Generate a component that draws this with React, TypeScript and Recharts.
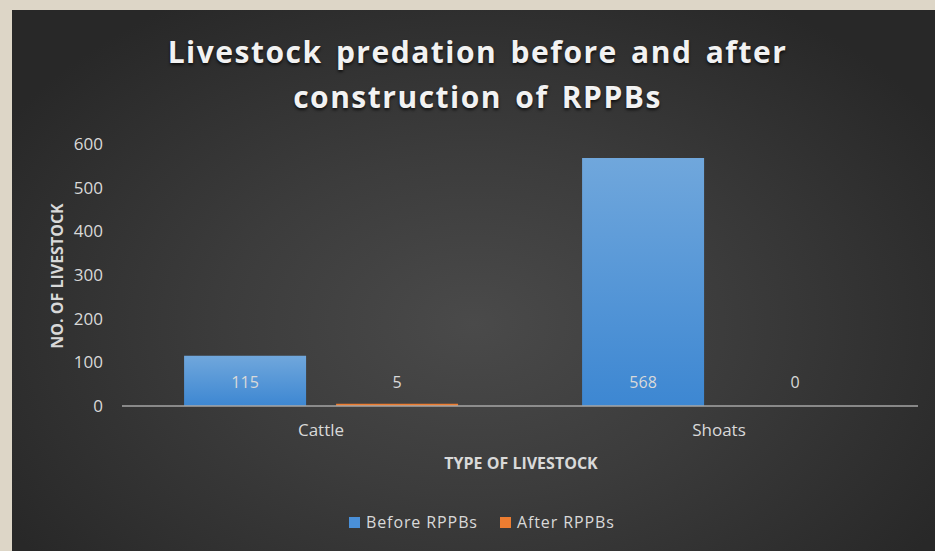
import { Bar, BarChart, Cell, LabelList, Legend, XAxis, YAxis } from "recharts";

const categories = ["Cattle", "Shoats"];
const beforeValues = [115, 568];
const afterValues = [5, 0];
const yTicks = [0, 100, 200, 300, 400, 500, 600];

const data = categories.map((type, i) => ({
  type,
  before: beforeValues[i],
  after: afterValues[i],
}));

const FONT = '"Open Sans", "DejaVu Sans", sans-serif';
const TEXT = "#d9d9d9";

const baseLabel = (props: any) => {
  const { x, y, width, height, value } = props;
  const base = Number(y) + Number(height);
  return (
    <text
      x={Number(x) + Number(width) / 2}
      y={base - 22}
      textAnchor="middle"
      dominantBaseline="middle"
      fill={TEXT}
      fontSize={16}
      fontFamily={FONT}
    >
      {value}
    </text>
  );
};

const legendItems = [
  { label: "Before RPPBs", color: "#4a90d9" },
  { label: "After RPPBs", color: "#ed7d31" },
];

function ChartLegend() {
  return (
    <div style={{ display: "flex", gap: 22, alignItems: "center", fontFamily: FONT, fontSize: 16, letterSpacing: 0.9, color: TEXT }}>
      {legendItems.map((item) => (
        <div key={item.label} style={{ display: "flex", alignItems: "center", gap: 6 }}>
          <span style={{ width: 11, height: 11, background: item.color, display: "inline-block" }} />
          <span>{item.label}</span>
        </div>
      ))}
    </div>
  );
}

export default function App() {
  return (
    <div
      style={{
        position: "fixed",
        left: 0,
        top: 0,
        width: 935,
        height: 551,
        background: "#ddd6c7",
        overflow: "hidden",
        fontFamily: FONT,
      }}
    >
      <div
        style={{
          position: "absolute",
          left: 12,
          top: 10,
          width: 923,
          height: 541,
          background:
            "radial-gradient(ellipse 60% 70% at 50% 58%, #4a4a4a 0%, #3c3c3c 45%, #282828 100%)",
        }}
      />
      <div
        style={{
          position: "absolute",
          left: 20,
          top: 29,
          width: 915,
          textAlign: "center",
          color: "#f2f2f2",
          fontSize: 30,
          fontWeight: 700,
          letterSpacing: 1.5,
          wordSpacing: 4,
          lineHeight: "45px",
          textShadow: "0 2px 3px rgba(0,0,0,0.7)",
        }}
      >
        Livestock predation before and after
        <br />
        construction of RPPBs
      </div>
      <div
        style={{
          position: "absolute",
          left: 57,
          top: 276,
          transform: "translate(-50%, -50%) rotate(-90deg)",
          whiteSpace: "nowrap",
          color: TEXT,
          fontSize: 16,
          fontWeight: 700,
        }}
      >
        NO. OF LIVESTOCK
      </div>
      <div
        style={{
          position: "absolute",
          left: 521,
          top: 463,
          transform: "translate(-50%, -50%)",
          whiteSpace: "nowrap",
          color: TEXT,
          fontSize: 16,
          fontWeight: 700,
        }}
      >
        TYPE OF LIVESTOCK
      </div>
      <div style={{ position: "absolute", left: 0, top: 0 }}>
        <BarChart
          width={935}
          height={551}
          data={data}
          margin={{ top: 144, right: 17, bottom: 93, left: 62 }}
          barCategoryGap="15.6%"
          barGap={30}
        >
          <defs>
            <linearGradient id="blueFill" x1="0" y1="0" x2="0" y2="1">
              <stop offset="0%" stopColor="#70a7dc" />
              <stop offset="100%" stopColor="#3d87d2" />
            </linearGradient>
          </defs>
          <XAxis
            dataKey="type"
            axisLine={{ stroke: "#a6a6a6", strokeWidth: 1.5 }}
            tickLine={false}
            tickMargin={12}
            height={30}
            tick={{ fill: TEXT, fontSize: 17, fontFamily: FONT }}
          />
          <YAxis
            width={60}
            domain={[0, 600]}
            ticks={yTicks}
            axisLine={false}
            tickLine={false}
            tickMargin={13}
            tick={{ fill: TEXT, fontSize: 17, fontFamily: FONT }}
          />
          <Legend
            layout="vertical"
            align="center"
            verticalAlign="bottom"
            wrapperStyle={{ position: "absolute", left: 349, top: 511, width: "auto" }}
            content={() => <ChartLegend />}
          />
          <Bar dataKey="before" name="Before RPPBs" fill="url(#blueFill)" isAnimationActive={false}>
            <LabelList dataKey="before" content={baseLabel} />
          </Bar>
          <Bar dataKey="after" name="After RPPBs" fill="#ed7d31" minPointSize={1} isAnimationActive={false}>
            {afterValues.map((v, i) => (
              <Cell key={i} fill={v === 0 ? "transparent" : "#ed7d31"} />
            ))}
            <LabelList dataKey="after" content={baseLabel} />
          </Bar>
        </BarChart>
      </div>
    </div>
  );
}
